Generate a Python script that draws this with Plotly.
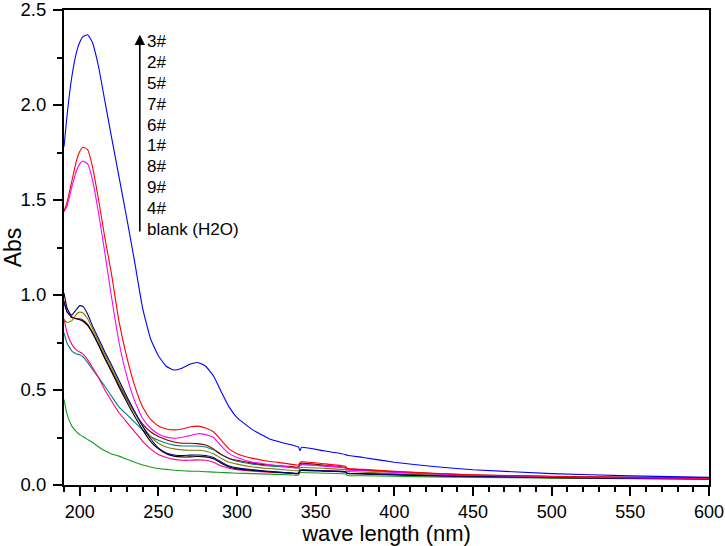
import plotly.graph_objects as go

wl = [190, 192, 195, 198, 200, 202, 205, 208, 212, 216, 220, 225, 230, 235, 240, 245, 250, 255, 260, 265,
      270, 275, 280, 285, 290, 295, 300, 310, 320, 330, 339, 340, 341, 355, 369, 370, 380, 400, 425, 450,
      500, 550, 600]

s3 = [1.78, 1.95, 2.15, 2.28, 2.33, 2.36, 2.37, 2.33, 2.20, 2.02, 1.84, 1.62, 1.40, 1.17, 0.93, 0.77, 0.68, 0.625, 0.605, 0.615,
      0.635, 0.645, 0.625, 0.575, 0.49, 0.41, 0.355, 0.29, 0.245, 0.22, 0.20, 0.18, 0.198, 0.18, 0.16, 0.157, 0.145, 0.12, 0.097, 0.08,
      0.06, 0.048, 0.04]
s2 = [1.44, 1.49, 1.60, 1.71, 1.755, 1.778, 1.765, 1.68, 1.50, 1.30, 1.12, 0.86, 0.67, 0.52, 0.41, 0.345, 0.31, 0.295, 0.29, 0.295,
      0.305, 0.31, 0.30, 0.28, 0.235, 0.19, 0.165, 0.14, 0.125, 0.115, 0.105, 0.118, 0.122, 0.112, 0.098, 0.088, 0.082, 0.072, 0.062, 0.054,
      0.046, 0.04, 0.036]
s5 = [1.44, 1.47, 1.57, 1.655, 1.69, 1.705, 1.69, 1.61, 1.43, 1.22, 1.00, 0.75, 0.57, 0.44, 0.35, 0.30, 0.268, 0.252, 0.246, 0.25,
      0.26, 0.27, 0.265, 0.25, 0.205, 0.165, 0.145, 0.12, 0.108, 0.098, 0.09, 0.102, 0.106, 0.10, 0.09, 0.08, 0.076, 0.067, 0.058, 0.051,
      0.044, 0.039, 0.035]
s7 = [0.96, 0.91, 0.895, 0.925, 0.944, 0.94, 0.90, 0.84, 0.77, 0.70, 0.635, 0.55, 0.465, 0.385, 0.31, 0.245, 0.195, 0.168, 0.158, 0.155,
      0.157, 0.158, 0.155, 0.145, 0.12, 0.10, 0.09, 0.08, 0.072, 0.066, 0.062, 0.078, 0.08, 0.075, 0.07, 0.062, 0.06, 0.055, 0.05, 0.046,
      0.04, 0.036, 0.033]
s6 = [0.87, 0.855, 0.865, 0.90, 0.91, 0.905, 0.875, 0.825, 0.755, 0.685, 0.62, 0.535, 0.455, 0.38, 0.31, 0.255, 0.22, 0.20, 0.19, 0.185,
      0.183, 0.183, 0.178, 0.165, 0.14, 0.12, 0.11, 0.095, 0.087, 0.08, 0.075, 0.09, 0.092, 0.088, 0.08, 0.072, 0.068, 0.06, 0.053, 0.048,
      0.042, 0.037, 0.034]
s1 = [1.01, 0.93, 0.885, 0.875, 0.87, 0.862, 0.84, 0.80, 0.735, 0.665, 0.60, 0.515, 0.435, 0.36, 0.29, 0.23, 0.19, 0.165, 0.152, 0.148,
      0.148, 0.15, 0.148, 0.138, 0.115, 0.095, 0.085, 0.077, 0.07, 0.065, 0.06, 0.075, 0.077, 0.073, 0.068, 0.06, 0.058, 0.053, 0.048, 0.045,
      0.039, 0.035, 0.032]
s8 = [0.97, 0.91, 0.88, 0.875, 0.875, 0.868, 0.845, 0.805, 0.74, 0.67, 0.605, 0.525, 0.45, 0.38, 0.32, 0.28, 0.255, 0.238, 0.226, 0.22,
      0.22, 0.218, 0.21, 0.19, 0.16, 0.14, 0.13, 0.115, 0.105, 0.10, 0.095, 0.112, 0.115, 0.105, 0.092, 0.085, 0.08, 0.07, 0.06, 0.052,
      0.045, 0.04, 0.037]
s9 = [0.875, 0.80, 0.74, 0.71, 0.70, 0.69, 0.66, 0.62, 0.565, 0.50, 0.445, 0.38, 0.33, 0.28, 0.23, 0.19, 0.16, 0.145, 0.135, 0.13,
      0.13, 0.132, 0.13, 0.12, 0.10, 0.088, 0.08, 0.073, 0.068, 0.064, 0.06, 0.075, 0.078, 0.075, 0.07, 0.062, 0.06, 0.055, 0.05, 0.046,
      0.04, 0.036, 0.034]
s4 = [0.80, 0.745, 0.705, 0.69, 0.685, 0.675, 0.645, 0.61, 0.565, 0.52, 0.47, 0.41, 0.37, 0.33, 0.29, 0.255, 0.235, 0.22, 0.21, 0.205,
      0.205, 0.205, 0.20, 0.185, 0.16, 0.14, 0.125, 0.11, 0.10, 0.095, 0.09, 0.105, 0.108, 0.10, 0.09, 0.082, 0.078, 0.068, 0.058, 0.05,
      0.044, 0.039, 0.036]
blank = [0.45, 0.37, 0.31, 0.28, 0.265, 0.255, 0.24, 0.225, 0.20, 0.18, 0.165, 0.152, 0.135, 0.12, 0.105, 0.095, 0.087, 0.082, 0.078, 0.075,
         0.073, 0.072, 0.07, 0.068, 0.066, 0.064, 0.062, 0.06, 0.057, 0.055, 0.052, 0.065, 0.066, 0.062, 0.058, 0.05, 0.049, 0.046, 0.042, 0.04,
         0.036, 0.033, 0.031]

series = [
    ("blank (H2O)", blank, "#1A9A1A"),
    ("4#", s4, "#008080"),
    ("9#", s9, "#FF0080"),
    ("8#", s8, "#800000"),
    ("1#", s1, "#000000"),
    ("6#", s6, "#808000"),
    ("7#", s7, "#000080"),
    ("5#", s5, "#FF00FF"),
    ("2#", s2, "#FF0000"),
    ("3#", s3, "#0000FF"),
]
labels = ["3#", "2#", "5#", "7#", "6#", "1#", "8#", "9#", "4#", "blank (H2O)"]

fig = go.Figure()
for name, ys, col in series:
    fig.add_trace(go.Scatter(x=wl, y=ys, name=name, mode="lines",
                             line=dict(color=col, width=1.1, shape="spline", smoothing=0.4)))

FONT = "Arial, Liberation Sans, sans-serif"

label_x = 241.5
y_top = 2.333
step = 0.1097
for i, t in enumerate(labels):
    fig.add_annotation(x=label_x, y=y_top - i * step, xref="x", yref="y", text=t, showarrow=False,
                       xanchor="left", yanchor="middle", font=dict(family=FONT, size=17, color="black"))

fig.add_annotation(x=238.2, y=2.37, ax=238.2, ay=1.326, xref="x", yref="y", axref="x", ayref="y",
                   text="", showarrow=True, arrowhead=2, arrowsize=1.3, arrowwidth=1.6, arrowcolor="black")

fig.update_layout(
    width=725, height=546,
    margin=dict(l=64, r=16, t=10, b=61),
    paper_bgcolor="white", plot_bgcolor="white",
    showlegend=False,
    font=dict(family=FONT, size=18, color="black"),
)
fig.update_xaxes(range=[190, 600], dtick=50, tick0=0, showgrid=False, zeroline=False, automargin=False,
                 showline=True, linecolor="black", linewidth=2, mirror=True, ticklabeloverflow="allow",
                 ticks="outside", ticklen=9, tickwidth=2, tickcolor="black",
                 minor=dict(dtick=10, tick0=0, ticks="outside", ticklen=5, tickwidth=1.5, tickcolor="black", showgrid=False),
                 title=dict(text="wave length (nm)", font=dict(size=22), standoff=5),
                 tickfont=dict(size=18))
fig.update_yaxes(range=[0, 2.5], dtick=0.5, tick0=0, tickformat=".1f", showgrid=False, zeroline=False, automargin=False,
                 showline=True, linecolor="black", linewidth=2, mirror=True, ticklabeloverflow="allow",
                 ticklabelstandoff=3,
                 ticks="outside", ticklen=9, tickwidth=2, tickcolor="black",
                 minor=dict(dtick=0.25, tick0=0, ticks="outside", ticklen=5, tickwidth=1.5, tickcolor="black", showgrid=False),
                 title=dict(text="Abs", font=dict(size=23), standoff=4),
                 tickfont=dict(size=18.5))

fig.write_html("out.html")
